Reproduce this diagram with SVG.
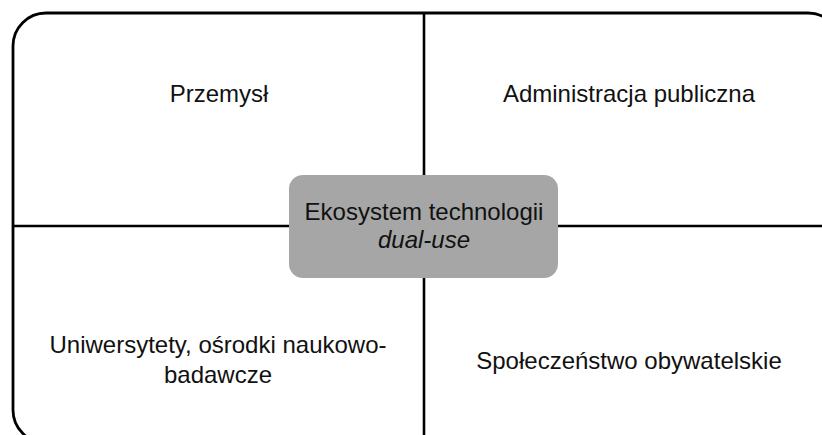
<svg xmlns="http://www.w3.org/2000/svg" width="822" height="435" viewBox="0 0 822 435">
<style>
.t{font-family:"Liberation Sans",Arial,sans-serif;font-size:24px;fill:#111;text-anchor:middle}
.ln{stroke:#000;stroke-width:2.6;fill:none}
</style>
<rect x="0" y="0" width="822" height="435" fill="#fff"/>
<g id="frame">
<rect x="13" y="13" width="828" height="430" rx="33" ry="33" fill="none" stroke="#000" stroke-width="2.8"/>
</g>
<g id="connectors">
<line class="ln" x1="424" y1="13" x2="424" y2="440" stroke-width="3"/>
<line class="ln" x1="13" y1="226" x2="830" y2="226"/>
</g>
<g id="center">
<rect x="289" y="175" width="269" height="103" rx="14" ry="14" fill="#a6a6a6"/>
<text class="t" x="424" y="220">Ekosystem technologii</text>
<text class="t" x="424" y="248" font-style="italic">dual-use</text>
</g>
<g id="przemysl"><text class="t" x="219" y="102">Przemysł</text></g>
<g id="administracja"><text class="t" x="629" y="102">Administracja publiczna</text></g>
<g id="uniwersytety">
<text class="t" x="218" y="353">Uniwersytety, ośrodki naukowo-</text>
<text class="t" x="218" y="383">badawcze</text>
</g>
<g id="spoleczenstwo"><text class="t" x="629" y="369">Społeczeństwo obywatelskie</text></g>
</svg>
